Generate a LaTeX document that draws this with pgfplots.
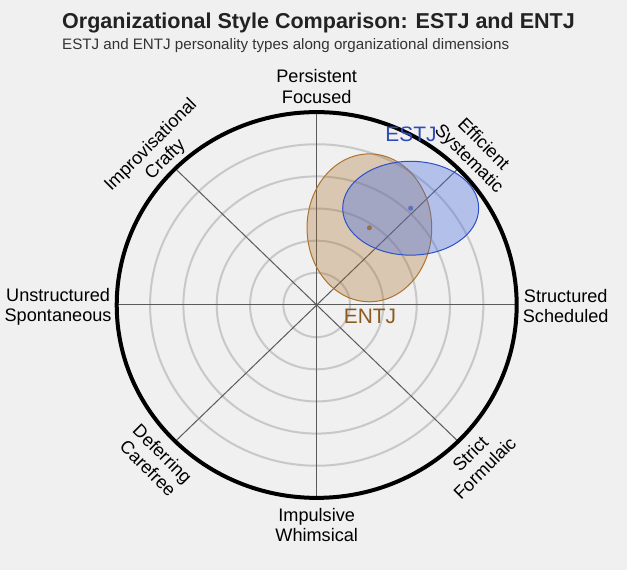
\documentclass[border=0pt]{standalone}
\usepackage{pgfplots}
\pgfplotsset{compat=1.18}
\usepackage{fontspec}
\setmainfont{Liberation Sans}
\definecolor{bgc}{RGB}{240,240,240}
\definecolor{gridc}{RGB}{200,200,200}
\definecolor{spoke}{RGB}{90,90,90}
\definecolor{estj}{RGB}{65,105,225}
\definecolor{estjedge}{RGB}{45,80,200}
\definecolor{entj}{RGB}{165,105,35}
\definecolor{entjedge}{RGB}{175,115,45}
\definecolor{estjtxt}{RGB}{45,75,185}
\definecolor{entjtxt}{RGB}{140,90,30}
\definecolor{titlec}{RGB}{34,34,34}
\definecolor{subc}{RGB}{51,51,51}
\begin{document}
\begin{tikzpicture}
\fill[bgc] (0,0) rectangle (627bp,570bp);
\begin{axis}[at={(0,0)}, anchor=south west, scale only axis,
  width=627bp, height=570bp,
  xmin=-9.502, xmax=9.31, ymin=-8.243, ymax=9.487,
  hide axis, clip=false]
% grid rings
\draw[gridc, line width=2bp] (axis cs:0,0) ellipse [x radius=1, y radius=1];
\draw[gridc, line width=2bp] (axis cs:0,0) ellipse [x radius=2, y radius=2];
\draw[gridc, line width=2bp] (axis cs:0,0) ellipse [x radius=3, y radius=3];
\draw[gridc, line width=2bp] (axis cs:0,0) ellipse [x radius=4, y radius=4];
\draw[gridc, line width=2bp] (axis cs:0,0) ellipse [x radius=5, y radius=5];
% spokes
\addplot[spoke, line width=1bp] coordinates {(-6,0) (6,0)};
\addplot[spoke, line width=1bp] coordinates {(0,-6) (0,6)};
\addplot[spoke, line width=1bp] coordinates {(-4.243,-4.243) (4.243,4.243)};
\addplot[spoke, line width=1bp] coordinates {(-4.243,4.243) (4.243,-4.243)};
% outer ring
\draw[black, line width=4bp] (axis cs:0,0) ellipse [x radius=6, y radius=6];
% ENTJ
\filldraw[fill=entj, fill opacity=0.3, draw=entjedge, line width=1bp] (axis cs:1.58,2.40) ellipse [x radius=1.87, y radius=2.30];
% ESTJ
\filldraw[fill=estj, fill opacity=0.35, draw=estjedge, line width=1bp] (axis cs:2.82,3.01) ellipse [x radius=2.04, y radius=1.46];
\addplot[only marks, mark=*, mark size=2.3bp, color=entj!60!gray] coordinates {(1.58,2.40)};
\addplot[only marks, mark=*, mark size=2.3bp, color=estj!60!gray] coordinates {(2.82,3.01)};
% series labels
\node[text=estjtxt, font=\fontsize{21}{24}\selectfont] at (axis cs:2.83,5.32) {ESTJ};
\node[text=entjtxt, font=\fontsize{21}{24}\selectfont] at (axis cs:1.60,-0.37) {ENTJ};
% dimension labels
\tikzset{dl/.style={align=center, inner sep=0pt, font=\fontsize{18.2}{20.5}\selectfont, text=black}}
\node[dl, anchor=south] at (axis cs:0,6.27) {Persistent\\Focused};
\node[dl, anchor=north] at (axis cs:0,-6.32) {Impulsive\\Whimsical};
\node[dl, anchor=west] at (axis cs:6.18,-0.03) {Structured\\Scheduled};
\node[dl, anchor=east] at (axis cs:-6.15,-0.06) {Unstructured\\Spontaneous};
\node[dl, rotate=-45] at (axis cs:4.77,4.76) {Efficient\\Systematic};
\node[dl, rotate=45] at (axis cs:-4.75,4.74) {Improvisational\\Crafty};
\node[dl, rotate=-45] at (axis cs:-4.84,-4.85) {Deferring\\Carefree};
\node[dl, rotate=45] at (axis cs:4.82,-4.85) {Strict\\Formulaic};
\end{axis}
\node[anchor=base west, inner sep=0pt, text=titlec, font=\bfseries\fontsize{21.6}{24}\selectfont] at (62bp,541bp) {Organizational Style Comparison: ESTJ and ENTJ};
\node[anchor=base west, inner sep=0pt, text=subc, font=\fontsize{15.2}{18}\selectfont] at (62bp,520bp) {ESTJ and ENTJ personality types along organizational dimensions};
\end{tikzpicture}
\end{document}
